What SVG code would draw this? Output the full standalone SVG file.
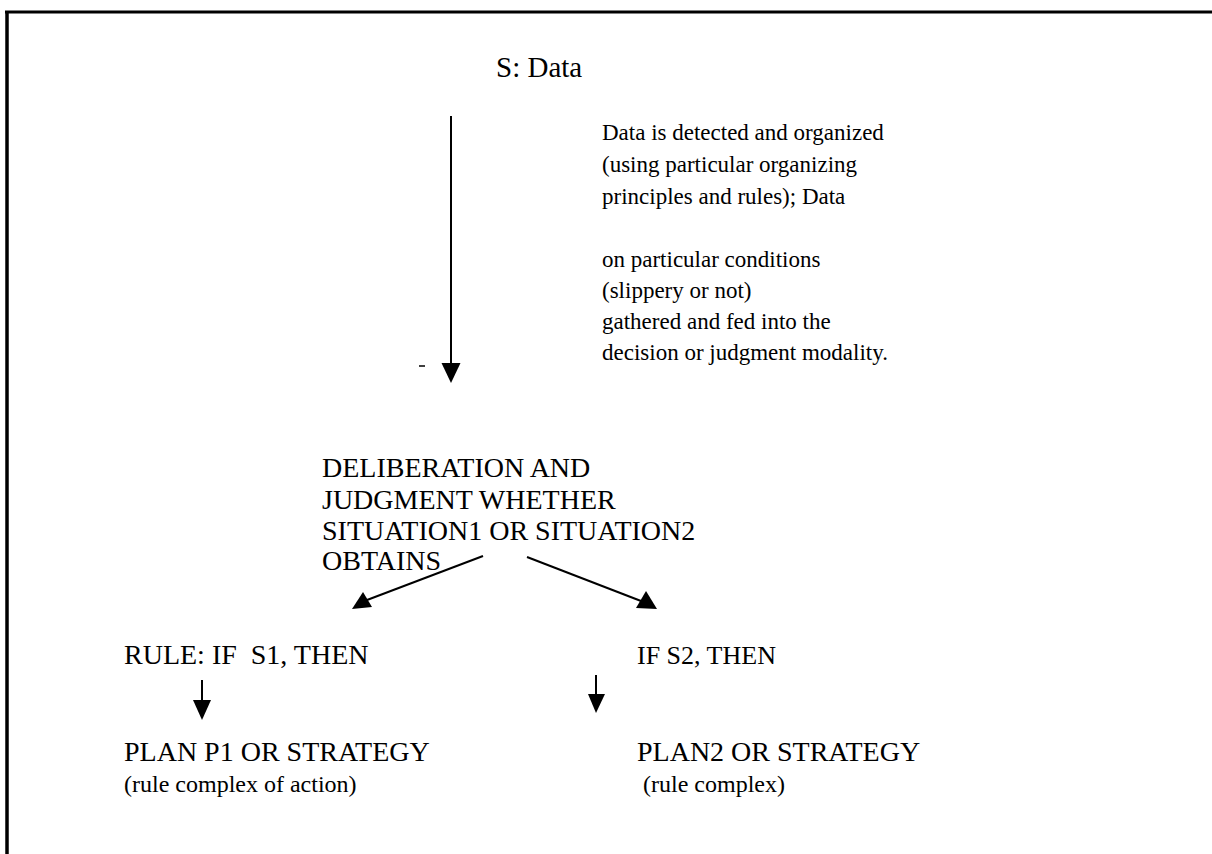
<svg xmlns="http://www.w3.org/2000/svg" width="1212" height="854" viewBox="0 0 1212 854">
<style>
text{font-family:"Liberation Serif","Times New Roman",serif;font-size:23px;fill:#000;white-space:pre}
.cap{font-size:28px}
.lo{font-size:24px}
.ln{stroke:#000;stroke-width:2;fill:none}
.hd{fill:#000}
</style>
<rect width="1212" height="854" fill="#fff"/>
<g id="frame">
<line x1="5" y1="12" x2="1212" y2="12" stroke="#000" stroke-width="3"/>
<line x1="7" y1="11" x2="7" y2="854" stroke="#000" stroke-width="3.5"/>
</g>
<g id="connectors">
<line class="ln" x1="451" y1="116" x2="451" y2="365"/>
<polygon class="hd" points="441.5,363 460.5,363 451,383"/>
<line x1="419" y1="366" x2="425" y2="366" stroke="#000" stroke-width="1.5"/>
<line class="ln" x1="483" y1="556" x2="367" y2="600"/>
<polygon class="hd" points="352,609 372,607 363,592"/>
<line class="ln" x1="527" y1="557" x2="641" y2="601"/>
<polygon class="hd" points="636,608 657,609 646,591"/>
<line class="ln" x1="202" y1="680" x2="202" y2="702"/>
<polygon class="hd" points="193,700 211,700 202,720"/>
<line class="ln" x1="596" y1="675" x2="596" y2="696"/>
<polygon class="hd" points="588,694 605,694 596,713"/>
</g>
<g id="n-sdata"><text class="cap" x="496" y="77" style="font-size:29px">S: Data</text></g>
<g id="n-note">
<text x="602" y="140">Data is detected and organized</text>
<text x="602" y="172">(using particular organizing</text>
<text x="602" y="204">principles and rules); Data</text>
<text x="602" y="267">on particular conditions</text>
<text x="602" y="298">(slippery or not)</text>
<text x="602" y="329">gathered and fed into the</text>
<text x="602" y="360">decision or judgment modality.</text>
</g>
<g id="n-deliberation">
<text class="cap" x="322" y="477">DELIBERATION AND</text>
<text class="cap" x="322" y="509">JUDGMENT WHETHER</text>
<text class="cap" x="322" y="540">SITUATION1 OR SITUATION2</text>
<text class="cap" x="322" y="570">OBTAINS</text>
</g>
<g id="n-rule1"><text class="cap" x="124" y="664">RULE: IF  S1, THEN</text></g>
<g id="n-plan1">
<text class="cap" x="124" y="761">PLAN P1 OR STRATEGY</text>
<text class="lo" x="124" y="792">(rule complex of action)</text>
</g>
<g id="n-rule2"><text class="cap" x="637" y="664" style="font-size:26px">IF S2, THEN</text></g>
<g id="n-plan2">
<text class="cap" x="637" y="761">PLAN2 OR STRATEGY</text>
<text class="lo" x="643" y="792">(rule complex)</text>
</g>
</svg>
